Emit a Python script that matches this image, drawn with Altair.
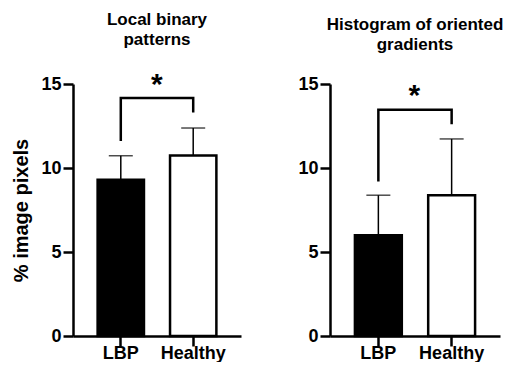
import altair as alt
import pandas as pd

groups = ["LBP", "Healthy"]
fills = ["#000000", "#ffffff"]

# Panel 1: Local binary patterns
lbp_title = ["Local binary", "patterns"]
lbp_mean = [9.3, 10.75]
lbp_upper = [10.73, 12.38]
lbp_bracket_level = 14.17
lbp_bracket_legs = [11.6, 13.3]
lbp_star_y = 15.2

# Panel 2: Histogram of oriented gradients
hog_title = ["Histogram of oriented", "gradients"]
hog_mean = [6.0, 8.38]
hog_upper = [8.38, 11.73]
hog_bracket_level = 13.47
hog_bracket_legs = [9.2, 12.6]
hog_star_y = 14.55

y_ticks = [0, 5, 10, 15]
y_title = "% image pixels"
FONT = "Liberation Sans"


def panel(title, means, uppers, level, legs, star_y, width, ytitle, toff):
    df = pd.DataFrame({"group": groups, "mean": means, "upper": uppers})
    xs = alt.Scale(domain=groups, paddingInner=0.36, paddingOuter=0.34)
    x = alt.X("group:N", scale=xs, sort=groups,
              axis=alt.Axis(title=None, labelAngle=0, labelPadding=-2))
    ys = alt.Scale(domain=[0, 15], nice=False, zero=True)
    yaxis = alt.Axis(values=y_ticks, title=ytitle if ytitle else None)
    bars = alt.Chart(df).mark_bar(stroke="black", strokeWidth=2.5).encode(
        x=x,
        y=alt.Y("mean:Q", scale=ys, axis=yaxis),
        fill=alt.Fill("group:N", scale=alt.Scale(domain=groups, range=fills), legend=None),
    )
    err = alt.Chart(df).mark_rule(color="black", strokeWidth=1.5).encode(
        x=x, y="mean:Q", y2="upper:Q")
    cap = alt.Chart(df).mark_tick(color="black", thickness=1.5, size=24).encode(
        x=x, y="upper:Q")
    br = pd.DataFrame({"group": [groups[0], groups[0], groups[1], groups[1]],
                       "y": [legs[0], level, level, legs[1]],
                       "o": [0, 1, 2, 3]})
    bracket = alt.Chart(br).mark_line(color="black", strokeWidth=2.5,
                                      strokeJoin="miter", strokeCap="butt").encode(
        x=x, y="y:Q", order="o:Q")
    sd = pd.DataFrame({"group": [groups[0]], "y": [star_y], "t": ["*"]})
    star = alt.Chart(sd).mark_text(font=FONT, fontWeight="bold", fontSize=30,
                                   baseline="middle", dx=36, dy=4).encode(
        x=x, y="y:Q", text="t:N")
    return alt.layer(bars, err, cap, bracket, star).properties(
        width=width, height=252,
        title=alt.TitleParams(title, font=FONT, fontSize=17, fontWeight="bold",
                              anchor="middle", frame="group", offset=toff,
                              lineHeight=20, color="black"),
    )


left = panel(lbp_title, lbp_mean, lbp_upper, lbp_bracket_level, lbp_bracket_legs,
             lbp_star_y, 168, y_title, 21)
right = panel(hog_title, hog_mean, hog_upper, hog_bracket_level, hog_bracket_legs,
              hog_star_y, 170, None, 21)

chart = alt.hconcat(left, right, spacing=56).properties(
    padding={"left": 3, "top": 2, "right": 0, "bottom": 0}
).configure_view(stroke=None).configure_axis(
    labelFont=FONT, labelFontWeight="bold", labelFontSize=18, labelColor="black",
    titleFont=FONT, titleFontWeight="bold", titleFontSize=20, titleColor="black",
    domainColor="black", domainWidth=2.5, tickColor="black", tickWidth=2.5,
    tickSize=10, grid=False, labelPadding=2, titlePadding=9,
)

chart.save("out.html", embed_options={"renderer": "svg", "actions": False})
